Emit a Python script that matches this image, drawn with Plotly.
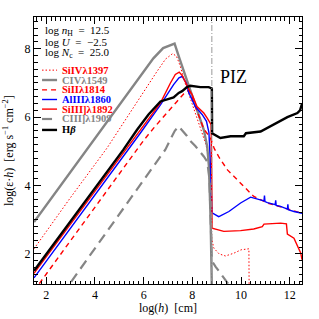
import plotly.graph_objects as go

# ---------------- data ----------------
siiv_x = [1.5, 3.0, 4.5, 5.5, 6.0, 6.55, 6.9, 7.19, 7.35, 7.5, 7.7, 7.92, 8.13, 8.40, 8.54, 8.65, 8.72, 8.77, 8.80, 8.88, 9.1, 9.36, 9.7, 10.0, 10.32, 10.33]
siiv_y = [2.15, 3.65, 5.10, 6.20, 6.75, 7.34, 7.70, 7.86, 7.78, 7.50, 7.00, 6.55, 6.12, 5.53, 5.24, 4.90, 4.00, 3.00, 2.42, 2.17, 2.00, 1.94, 2.02, 2.12, 2.15, 1.00]

civ_x = [1.5, 3.0, 4.5, 5.5, 6.0, 6.4, 6.8, 7.05, 7.27, 7.47, 7.65, 7.92, 8.13, 8.26, 8.47, 8.61, 8.68, 8.75, 8.78, 8.80]
civ_y = [2.93, 4.40, 5.87, 6.85, 7.33, 7.72, 8.02, 8.10, 8.15, 7.72, 7.35, 6.80, 6.31, 6.07, 5.63, 5.14, 4.56, 3.00, 1.50, 1.00]

siii_x = [1.5, 3.0, 4.5, 5.5, 6.0, 6.41, 6.82, 7.10, 7.37, 7.64, 7.85, 7.95, 8.05, 8.26, 8.47, 8.74, 8.90, 9.10, 9.45, 9.98, 10.52, 11.08, 11.76, 12.5]
siii_y = [0.92, 2.39, 3.86, 4.84, 5.32, 5.68, 6.00, 6.22, 6.46, 6.68, 6.78, 6.68, 6.45, 6.05, 5.65, 5.40, 5.08, 4.82, 4.45, 4.07, 3.68, 3.49, 3.34, 3.19]

aliii_x = [1.5, 3.0, 4.5, 5.5, 5.86, 6.69, 7.23, 7.45, 7.58, 7.75, 7.85, 8.12, 8.40, 8.58, 8.68, 8.73, 8.78, 8.81, 9.08, 9.15, 9.50, 9.98, 10.39, 10.66, 10.94, 10.96, 10.98, 11.08, 11.40, 11.42, 11.44, 11.62, 11.90, 11.92, 11.94, 12.17, 12.5]
aliii_y = [1.30, 2.75, 4.20, 5.17, 5.53, 6.36, 6.95, 7.15, 7.19, 7.00, 6.72, 6.31, 6.08, 5.88, 5.55, 4.80, 3.60, 3.20, 3.09, 3.11, 3.24, 3.49, 3.66, 3.60, 3.55, 3.71, 3.53, 3.50, 3.44, 3.57, 3.42, 3.39, 3.31, 3.45, 3.29, 3.24, 3.19]

siiii_x = [1.5, 3.0, 4.5, 5.5, 6.0, 6.69, 7.10, 7.30, 7.46, 7.60, 7.85, 7.99, 8.19, 8.33, 8.47, 8.61, 8.77, 8.80, 8.81, 9.29, 9.98, 10.52, 10.87, 10.94, 11.62, 11.86, 11.90, 12.17, 12.45, 12.5]
siiii_y = [1.43, 2.88, 4.33, 5.30, 5.78, 6.42, 7.00, 7.25, 7.32, 7.20, 6.82, 6.66, 6.31, 6.22, 6.12, 5.97, 5.78, 4.00, 2.75, 2.66, 2.68, 2.73, 2.80, 2.87, 2.90, 2.88, 2.58, 2.46, 2.02, 1.83]

ciii_x = [1.5, 4.5, 5.5, 6.5, 6.89, 7.10, 7.28, 7.44, 7.60, 7.78, 7.92, 8.13, 8.47, 8.61, 8.70, 8.75, 8.80, 8.95, 9.50]
ciii_y = [-0.34, 2.66, 3.66, 4.66, 5.05, 5.35, 5.60, 5.73, 5.60, 5.45, 5.30, 5.15, 4.85, 4.70, 4.20, 3.00, 1.80, 1.63, 1.10]

hb_x = [1.5, 3.0, 4.5, 5.17, 5.73, 6.2, 6.69, 7.10, 7.23, 7.44, 7.58, 7.78, 7.92, 8.33, 8.67, 8.80, 8.81, 9.15, 9.57, 10.11, 10.20, 10.80, 11.49, 11.90, 12.31, 12.42, 12.5]
hb_y = [1.51, 2.96, 4.41, 5.05, 5.63, 6.08, 6.46, 6.56, 6.58, 6.71, 6.76, 6.88, 6.92, 6.88, 6.88, 6.84, 5.53, 5.39, 5.44, 5.44, 5.53, 5.58, 5.83, 6.00, 6.12, 6.20, 6.39]

piz_boundary = 8.8

x_ticks = [2, 4, 6, 8, 10, 12]
y_ticks = [2, 4, 6, 8]

GRAY = "#858585"
RED = "#ff0000"
BLUE = "#0000ff"
BLACK = "#000000"

series = [
    ("SiIVλ1397", siiv_x, siiv_y, RED, 1.0, "1.5px,2px"),
    ("CIVλ1549", civ_x, civ_y, GRAY, 2.4, "solid"),
    ("SiIIλ1814", siii_x, siii_y, RED, 1.4, "5px,4px"),
    ("AlIIIλ1860", aliii_x, aliii_y, BLUE, 1.4, "solid"),
    ("SiIII]λ1892", siiii_x, siiii_y, RED, 1.4, "solid"),
    ("CIII]λ1909", ciii_x, ciii_y, GRAY, 2.2, "10px,6px"),
    ("Hβ", hb_x, hb_y, BLACK, 2.4, "solid"),
]

fig = go.Figure()
for name, xs, ys, col, w, dash in series:
    fig.add_trace(go.Scatter(x=xs, y=ys, mode="lines", name=name,
                             line=dict(color=col, width=w, dash=dash),
                             showlegend=False, hoverinfo="skip"))

# vertical dash-dot boundary
fig.add_shape(type="line", xref="x", yref="paper", x0=piz_boundary, x1=piz_boundary,
              y0=0, y1=1, line=dict(color="#999999", width=1, dash="6px,2px,1px,2px"))

SERIF = "Liberation Serif"

annots = []
# header text
hdr = ["log <i>n</i><sub>H</sub>  =  12.5",
       "log <i>U</i>  =  −2.5",
       "log <i>N</i><sub>c</sub>  =  25.0"]
hdr_y = [0.946, 0.905, 0.866]
for t, yy in zip(hdr, hdr_y):
    annots.append(dict(text=t, xref="paper", yref="paper", x=0.033, y=yy,
                       xanchor="left", yanchor="middle", showarrow=False,
                       font=dict(family=SERIF, size=11, color="black")))

# legend
leg_y = [0.801, 0.764, 0.727, 0.691, 0.655, 0.618, 0.577]
leg_labels = ["SiIVλ1397", "CIVλ1549", "SiIIλ1814", "AlIIIλ1860", "SiIII]λ1892", "CIII]λ1909", "H<i>β</i>"]
for (name, xs, ys, col, w, dash), lab, yy in zip(series, leg_labels, leg_y):
    fig.add_shape(type="line", xref="paper", yref="paper", x0=0.030, x1=0.086,
                  y0=yy, y1=yy, line=dict(color=col, width=w, dash=dash))
    annots.append(dict(text="<b>" + lab + "</b>", xref="paper", yref="paper", x=0.098, y=yy,
                       xanchor="left", yanchor="middle", showarrow=False,
                       font=dict(family=SERIF, size=10.5, color=col)))

annots.append(dict(text="PIZ", xref="paper", yref="paper", x=0.743, y=0.775,
                   xanchor="center", yanchor="middle", showarrow=False,
                   font=dict(family=SERIF, size=18, color="black")))

# axis titles
annots.append(dict(text="log(<i>h</i>)  [cm]", xref="paper", yref="paper", x=0.5, y=0,
                   yshift=-15, xanchor="center", yanchor="top", showarrow=False,
                   font=dict(family=SERIF, size=12, color="black")))
annots.append(dict(text="log(ε·<i>h</i>)  [erg s<sup>−1</sup> cm<sup>−2</sup>]", xref="paper", yref="paper",
                   x=0, xshift=-16, y=0.5, textangle=-90, xanchor="right", yanchor="middle",
                   showarrow=False, font=dict(family=SERIF, size=12, color="black")))

axis_common = dict(showline=True, linecolor="black", linewidth=1, mirror="allticks",
                   ticks="inside", ticklen=7, tickwidth=1, tickcolor="black",
                   showgrid=False, zeroline=False,
                   tickfont=dict(family=SERIF, size=12, color="black"),
                   minor=dict(ticks="inside", ticklen=3.5, dtick=0.2, tickcolor="black", showgrid=False))

fig.update_layout(
    width=319, height=319,
    margin=dict(l=34, r=17, t=17, b=35),
    paper_bgcolor="white", plot_bgcolor="white",
    annotations=annots,
    hovermode=False,
    xaxis=dict(range=[1.5, 12.5], tickvals=x_ticks, **axis_common),
    yaxis=dict(range=[1.12, 8.93], tickvals=y_ticks, **axis_common),
)

fig.write_html("out.html", config={"displayModeBar": False, "staticPlot": True},
               post_script="document.body.style.margin='0';document.body.style.overflow='hidden';")
